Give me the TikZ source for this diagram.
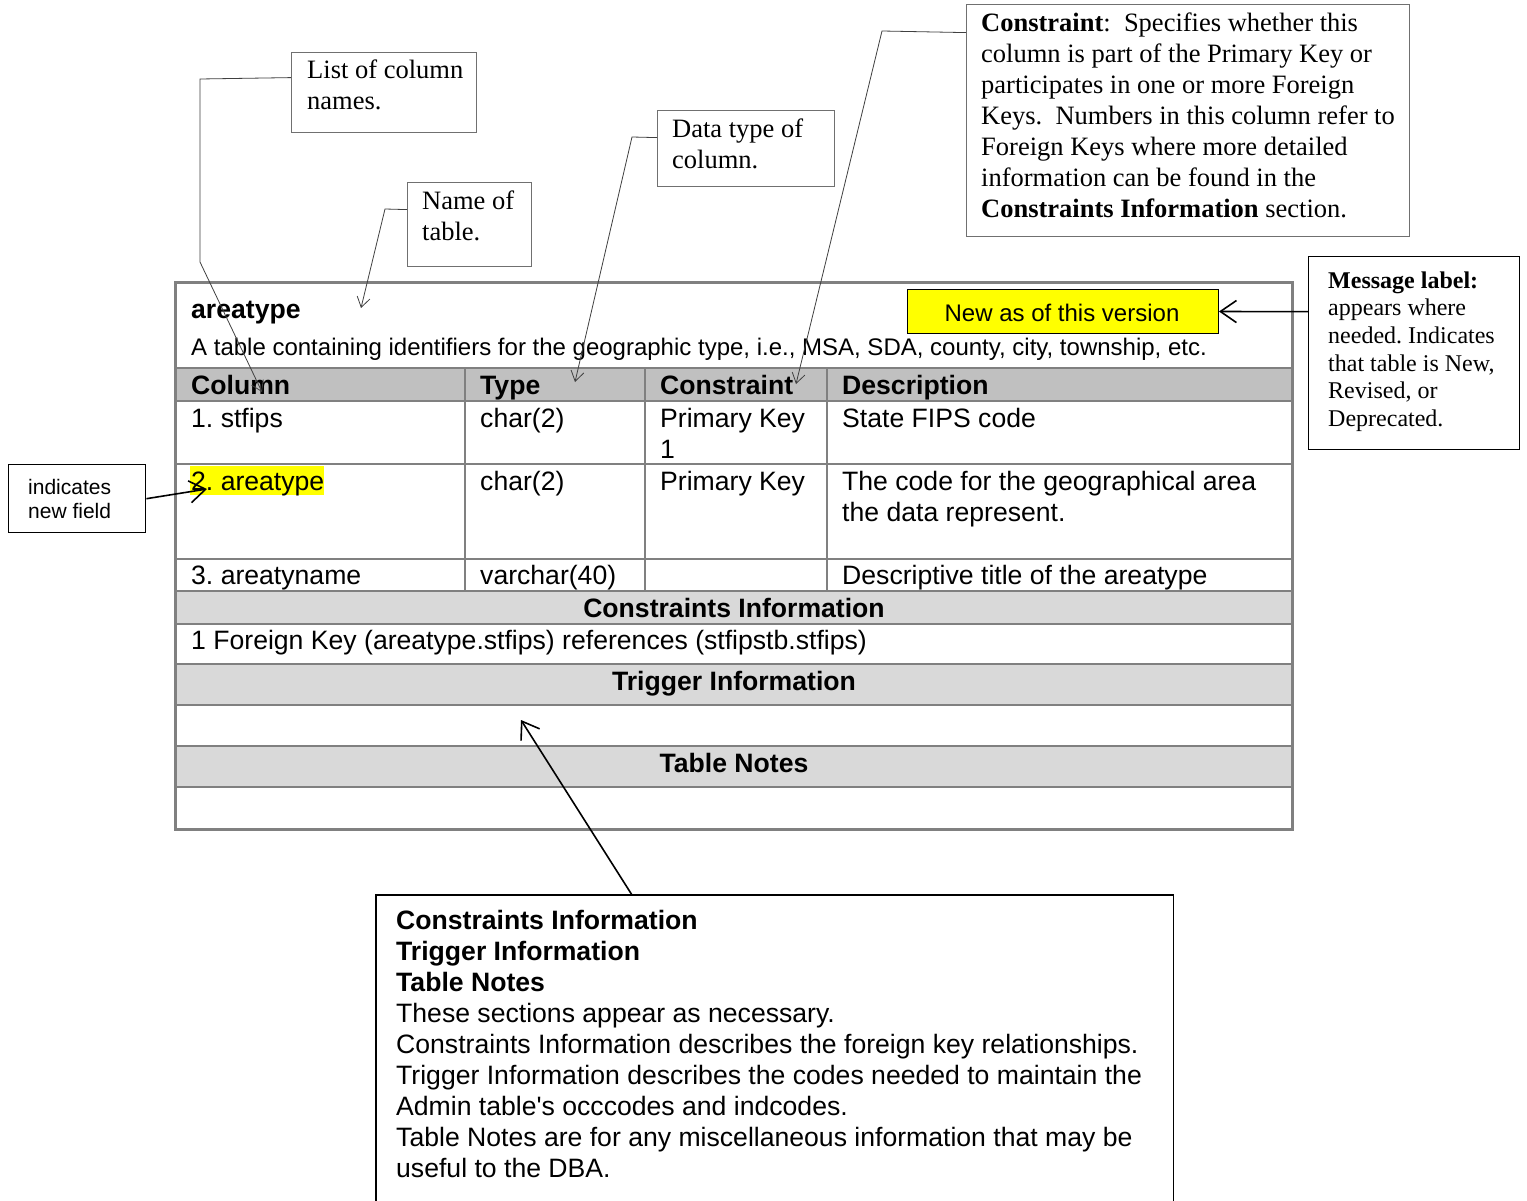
\documentclass[tikz,border=0pt]{standalone}
\usepackage{fontspec}
\setmainfont{Liberation Serif}
\newfontfamily\arial{Liberation Sans}
\usetikzlibrary{arrows.meta}
\definecolor{gridgray}{HTML}{808080}
\definecolor{hdrgray}{HTML}{C0C0C0}
\definecolor{secgray}{HTML}{D9D9D9}
\definecolor{hlyellow}{HTML}{FFFF00}
\definecolor{boxgray}{HTML}{707070}
\definecolor{linegray}{HTML}{404040}
\newcommand\mylines[1]{\begin{tabular}[t]{@{}l@{}}#1\end{tabular}}
\tikzset{
  serif/.style={font=\fontsize{26.5}{31}\selectfont, inner sep=0pt, anchor=base west},
  serifsm/.style={font=\fontsize{24}{27.7}\selectfont, inner sep=0pt, anchor=base west},
  sans/.style={font=\arial\fontsize{26.6}{31}\selectfont, inner sep=0pt, anchor=base west},
  sansb/.style={font=\arial\bfseries\fontsize{26.6}{31}\selectfont, inner sep=0pt, anchor=base west},
  sansc/.style={font=\arial\bfseries\fontsize{26.6}{31}\selectfont, inner sep=0pt, anchor=base},
  callbox/.style={draw=boxgray, line width=1.2pt, inner sep=0pt, anchor=north west, fill=white},
  blackbox/.style={draw=black, line width=1.4pt, inner sep=0pt, anchor=north west, fill=white},
  callline/.style={draw=linegray, line width=0.8pt, -{Straight Barb[length=10pt,width=13pt]}},
  bigarrow/.style={draw=black, line width=1.6pt, -{Straight Barb[length=16pt,width=22pt]}},
  gridline/.style={draw=gridgray, line width=2pt},
}
\begin{document}
\frenchspacing
\begin{tikzpicture}[x=1pt,y=-1pt]
\useasboundingbox[fill=white] (0,0) rectangle (1527,1201);

% ---------- table ----------
\fill[hdrgray] (175,368) rectangle (1292,401);
\fill[secgray] (175,591) rectangle (1292,624);
\fill[secgray] (175,664) rectangle (1292,705);
\fill[secgray] (175,746) rectangle (1292,787);
\fill[hlyellow] (190,466) rectangle (324,495);
\foreach \yy in {368,401,464,559,591,624,664,705,746,787}
  \draw[gridline] (175,\yy) -- (1292,\yy);
\foreach \xx in {465,645,827}
  \draw[gridline] (\xx,368) -- (\xx,591);
\draw[gridgray, line width=3pt] (175,283) rectangle (1292,829);

\node[sansb] (tname) at (191,318) {areatype};
\node[font=\arial\fontsize{24}{28}\selectfont, inner sep=0pt, anchor=base west] (tdesc) at (191,355) {A table containing identifiers for the geographic type, i.e., MSA, SDA, county, city, township, etc.};
\node[sansb] (h1) at (191,394) {Column};
\node[sansb] (h2) at (480,394) {Type};
\node[sansb] (h3) at (660,394) {Constraint};
\node[sansb] (h4) at (842,394) {Description};
\node[sans] (r1a) at (191,427) {1. stfips};
\node[sans] (r1b) at (480,427) {char(2)};
\node[sans] (r1c) at (660,427) {\mylines{Primary Key\\1}};
\node[sans] (r1d) at (842,427) {State FIPS code};
\node[sans] (r2a) at (191,490) {2. areatype};
\node[sans] (r2b) at (480,490) {char(2)};
\node[sans] (r2c) at (660,490) {Primary Key};
\node[sans] (r2d) at (842,490) {\mylines{The code for the geographical area\\the data represent.}};
\node[sans] (r3a) at (191,584) {3. areatyname};
\node[sans] (r3b) at (480,584) {varchar(40)};
\node[sans] (r3d) at (842,584) {Descriptive title of the areatype};
\node[sansc] (s1) at (734,617) {Constraints Information};
\node[sans] (s1t) at (191,649) {1 Foreign Key (areatype.stfips) references (stfipstb.stfips)};
\node[sansc] (s2) at (734,690) {Trigger Information};
\node[sansc] (s3) at (734,772) {Table Notes};

% yellow message label
\node[draw=black, line width=1pt, fill=hlyellow, anchor=north west, minimum width=311pt, minimum height=44pt, inner sep=0pt] (newbox) at (907,289) {};
\node[font=\arial\fontsize{24}{28}\selectfont, inner sep=0pt, anchor=base] (newtxt) at (1062,322) {New as of this version};

% ---------- callout boxes ----------
\node[callbox, minimum width=185pt, minimum height=80pt] (listbox) at (291,52) {};
\node[serif] (listtxt) at (307,79) {\mylines{List of column\\names.}};

\node[callbox, minimum width=124pt, minimum height=84pt] (namebox) at (407,182) {};
\node[serif] (nametxt) at (422,210) {\mylines{Name of\\table.}};

\node[callbox, minimum width=177pt, minimum height=76pt] (databox) at (657,110) {};
\node[serif] (datatxt) at (672,138) {\mylines{Data type of\\column.}};

\node[callbox, minimum width=443pt, minimum height=232pt] (conbox) at (966,4) {};
\node[serif] (contxt) at (981,32) {\mylines{\textbf{Constraint}:\ \ Specifies whether this\\column is part of the Primary Key or\\participates in one or more Foreign\\Keys.\ \ Numbers in this column refer to\\Foreign Keys where more detailed\\information can be found in the\\\textbf{Constraints Information} section.}};

\node[blackbox, minimum width=211pt, minimum height=193pt] (msgbox) at (1308,256) {};
\node[serifsm] (msgtxt) at (1328,288) {\mylines{\textbf{Message label:}\\appears where\\needed. Indicates\\that table is New,\\Revised, or\\Deprecated.}};

\node[blackbox, minimum width=137pt, minimum height=68pt] (indbox) at (8,464) {};
\node[font=\arial\fontsize{21}{24}\selectfont, inner sep=0pt, anchor=base west] (indtxt) at (28,494) {\mylines{indicates\\new field}};

\node[inner sep=0pt, anchor=north west, minimum width=797pt, minimum height=306pt] (botbox) at (376,895) {};
\draw[black, line width=1.4pt] (botbox.south west) -- (botbox.north west) -- (botbox.north east) -- (botbox.south east);
\node[sans] (bottxt) at (396,929) {\mylines{\textbf{Constraints Information}\\\textbf{Trigger Information}\\\textbf{Table Notes}\\These sections appear as necessary.\\Constraints Information describes the foreign key relationships.\\Trigger Information describes the codes needed to maintain the\\Admin table's occcodes and indcodes.\\Table Notes are for any miscellaneous information that may be\\useful to the DBA.}};

% ---------- connectors ----------
\coordinate (colarrow) at (262,392);
\coordinate (namearrow) at (361,308);
\coordinate (typearrow) at (575,382);
\coordinate (conarrow) at (796,384);
\coordinate (newfield) at (207,489);
\coordinate (trigarrow) at (521,720);

\draw[callline] ([yshift=15pt]listbox.west) -- (200,79) -- (200,262) -- (colarrow);
\draw[callline] ([yshift=15pt]namebox.west) -- (385,209) -- (namearrow);
\draw[callline] ([yshift=11pt]databox.west) -- (632,137) -- (typearrow);
\draw[callline] ([yshift=88pt]conbox.west) -- (882,31) -- (conarrow);

\draw[bigarrow] ([yshift=41.5pt]msgbox.west) -- (newbox.east);
\draw[bigarrow] (indbox.east) -- (newfield);
\draw[bigarrow] ([xshift=256pt]botbox.north west) -- (trigarrow);
\end{tikzpicture}
\end{document}
